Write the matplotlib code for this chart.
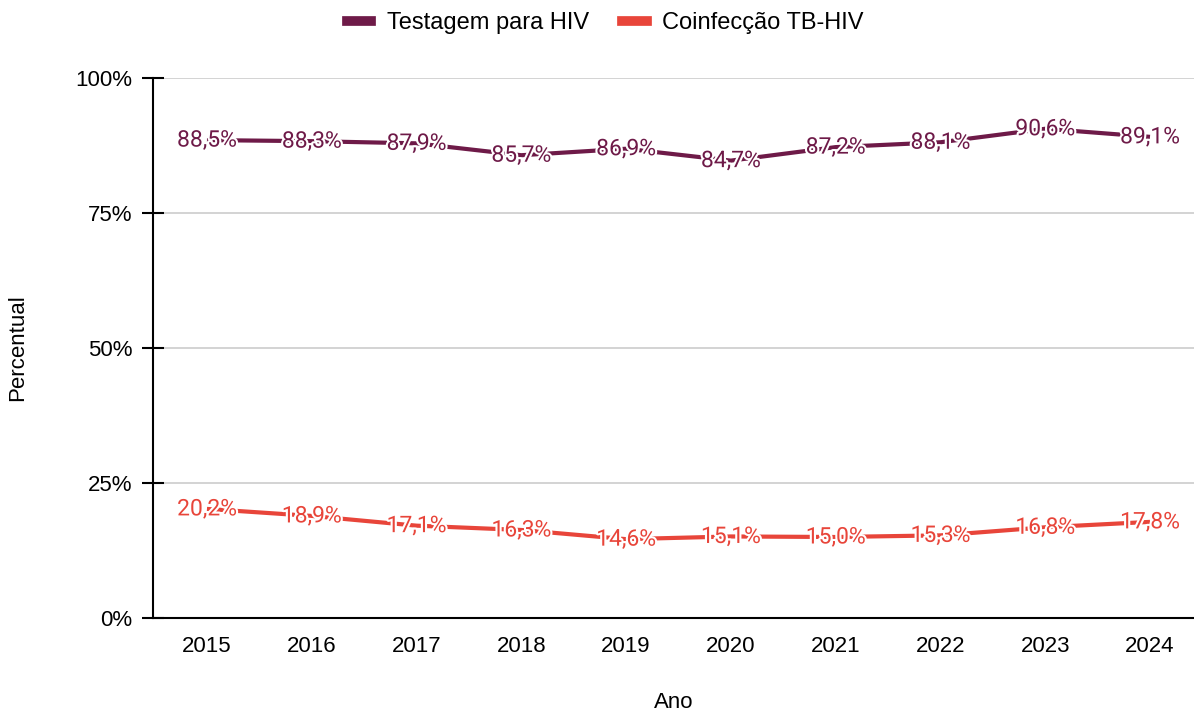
import numpy as np
import matplotlib
matplotlib.use('Agg')
import matplotlib.pyplot as plt
import matplotlib.patheffects as pe
from matplotlib.lines import Line2D

# Data
anos = ['2015', '2016', '2017', '2018', '2019', '2020', '2021', '2022', '2023', '2024']
testagem_hiv = [88.5, 88.3, 87.9, 85.7, 86.9, 84.7, 87.2, 88.1, 90.6, 89.1]
coinfeccao = [20.2, 18.9, 17.1, 16.3, 14.6, 15.1, 15.0, 15.3, 16.8, 17.8]
series_names = ['Testagem para HIV', 'Coinfecção TB-HIV']
y_ticks = [0, 25, 50, 75, 100]

col_hiv = '#6e1a48'
col_tb = '#e8453a'

plt.rcParams['font.family'] = ['Liberation Sans', 'DejaVu Sans']

fig = plt.figure(figsize=(11.94, 7.15), dpi=100)
ax = fig.add_axes([153 / 1194, 1 - 618 / 715, 1 - 153 / 1194, (618 - 78) / 715])

x = np.arange(len(anos))
halo = [pe.withStroke(linewidth=3, foreground='white')]

for vals, col in [(testagem_hiv, col_hiv), (coinfeccao, col_tb)]:
    ax.plot(x, vals, color=col, linewidth=3, solid_capstyle='butt', zorder=3)
    for xi, v in zip(x, vals):
        ax.text(xi, v, f'{v:.1f}%'.replace('.', ','), color=col, ha='center', va='center',
                fontsize=16.5, family=['Roboto', 'DejaVu Sans'], path_effects=halo, zorder=4)

ax.set_xlim(-0.515, 9.42)
ax.set_ylim(0, 100)
ax.set_xticks(x)
ax.set_xticklabels(anos)
ax.set_yticks(y_ticks)
ax.set_yticklabels([f'{t}%' for t in y_ticks])
ax.yaxis.grid(True, color='#cccccc', linewidth=1.2)
ax.set_axisbelow(True)

for s in ['top', 'right']:
    ax.spines[s].set_visible(False)
ax.spines['left'].set_linewidth(1.5)
ax.spines['bottom'].set_linewidth(1.5)
ax.tick_params(axis='y', direction='inout', length=16, width=1.5, labelsize=16, pad=7)
ax.tick_params(axis='x', length=0, labelsize=16, pad=13)

ax.set_xlabel('Ano', fontsize=16, labelpad=25)
ax.set_ylabel('Percentual', fontsize=16, labelpad=34)

handles = [Line2D([], [], color=col_hiv, linewidth=7), Line2D([], [], color=col_tb, linewidth=7)]
fig.legend(handles, series_names, loc='center', bbox_to_anchor=(605 / 1194, 1 - 23 / 715),
           ncol=2, frameon=False, fontsize=17, handlelength=1.05, columnspacing=1.4, handletextpad=0.65)

fig.savefig('out.png', dpi=100)
